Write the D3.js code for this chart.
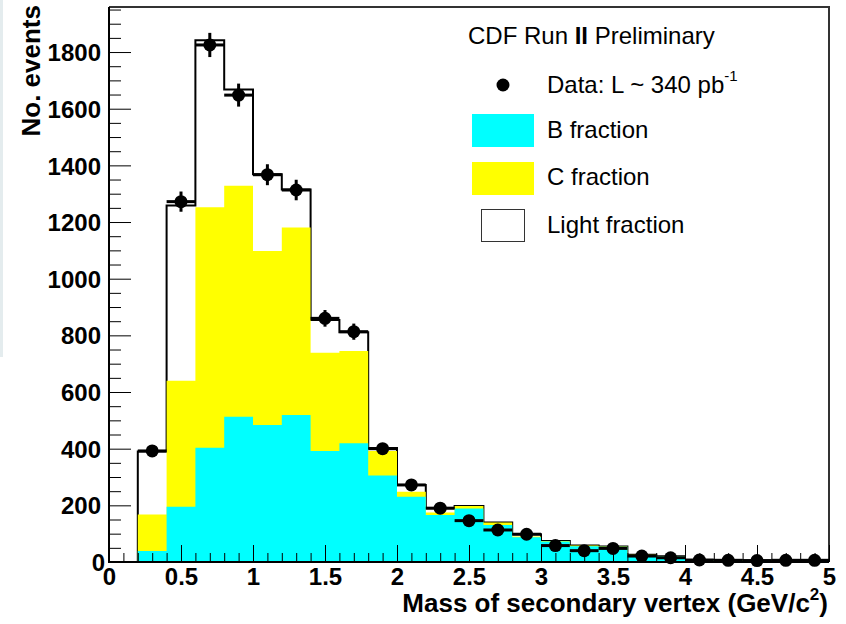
<!DOCTYPE html>
<html><head><meta charset="utf-8">
<script src="https://cdn.jsdelivr.net/npm/d3@7"></script>
<style>body{margin:0;background:#fff}svg{display:block}text{font-family:"Liberation Sans",Arial,sans-serif}</style>
</head><body><svg id="c" width="846" height="624"></svg>
<script>
// bin low edges (GeV/c^2), width 0.2
const binLow = [0.2,0.4,0.6,0.8,1.0,1.2,1.4,1.6,1.8,2.0,2.2,2.4,2.6,2.8,3.0,3.2,3.4,3.6,3.8,4.0,4.2,4.4,4.6,4.8];
const binWidth = 0.2;
// stacked MC: B, B+C, B+C+Light
const bFrac   = [39,195,403,513,484,519,392,419,305,230,166,189,131,87,72,56,54,25,19,5,4,3,3,2];
const bcStack = [168,640,1252,1328,1098,1181,739,745,392,248,175,198,139,90,74,58,55,26,20,6,6,4,4,3];
const total   = [390,1258,1842,1668,1369,1315,854,811,402,272,190,198,139,98,74,58,55,26,20,7,6,5,5,5];
const dataVal = [392,1272,1825,1648,1367,1313,860,813,400,272,190,146,113,98,58,40,48,21,15,7,6,5,6,6];
const xTicks = [0,0.5,1,1.5,2,2.5,3,3.5,4,4.5,5];
const yTicks = [0,200,400,600,800,1000,1200,1400,1600,1800];
const legendLabels = ["Data: L ~ 340 pb", "B fraction", "C fraction", "Light fraction"];

const svg = d3.select("#c");
const L=109, R=829, T=7, B=562;
const x = d3.scaleLinear().domain([0,5]).range([L,R]);
const y = d3.scaleLinear().domain([0,1959]).range([B,T]);

svg.append("rect").attr("x",0).attr("y",0).attr("width",3).attr("height",357).attr("fill","#e4ecee");

function stepArea(vals){
  const pts=[];
  binLow.forEach((lo,i)=>{pts.push([lo,vals[i]]);pts.push([lo+binWidth,vals[i]]);});
  return d3.area().x(d=>x(d[0])).y0(y(0)).y1(d=>y(d[1]))(pts);
}
function stepLine(vals){
  const pts=[[binLow[0],0]];
  binLow.forEach((lo,i)=>{pts.push([lo,vals[i]]);pts.push([lo+binWidth,vals[i]]);});
  pts.push([binLow[binLow.length-1]+binWidth,0]);
  return d3.line().x(d=>x(d[0])).y(d=>y(d[1]))(pts);
}
svg.append("path").attr("d",stepArea(total)).attr("fill","#fff");
svg.append("path").attr("d",stepLine(total)).attr("fill","none").attr("stroke","#000").attr("stroke-width",2);
svg.append("path").attr("d",stepArea(bcStack)).attr("fill","#ffff00");
svg.append("path").attr("d",stepArea(bFrac)).attr("fill","#00ffff");

// frame
svg.append("path").attr("d",`M${L},${T}H${R}V${B}`).attr("fill","none").attr("stroke","#333").attr("stroke-width",2);

// axes
const yMinor = d3.range(0,1959,50).filter(v=>v%200!==0);
const xMinor = d3.range(0,51,1).map(v=>v/10).filter(v=>Math.round(v*10)%5!==0);
const yAx = svg.append("g").attr("transform",`translate(${L},0)`)
  .call(d3.axisLeft(y).tickValues(yTicks).tickSize(-22).tickPadding(8).tickFormat(d3.format("d")));
svg.append("g").attr("transform",`translate(${L},0)`)
  .call(d3.axisLeft(y).tickValues(yMinor).tickSize(-12).tickFormat(""));
const xAx = svg.append("g").attr("transform",`translate(0,${B})`)
  .call(d3.axisBottom(x).tickValues(xTicks).tickSize(-17).tickPadding(6).tickFormat(d=>String(d)));
svg.append("g").attr("transform",`translate(0,${B})`)
  .call(d3.axisBottom(x).tickValues(xMinor).tickSize(-9).tickFormat(""));
svg.selectAll(".domain").remove();
svg.selectAll(".tick line").attr("stroke","#000").attr("stroke-width",1);
yAx.selectAll("text").attr("font-size",24).attr("font-weight","bold").attr("fill","#000").attr("dy","0.36em");
yAx.selectAll(".tick").filter(d=>d===0).select("text").attr("dx",4);
xAx.selectAll("text").attr("font-size",24).attr("font-weight","bold").attr("fill","#000").attr("dy","0.71em");
svg.append("path").attr("d",`M${L},${T}V${B}H${R}`).attr("fill","none").attr("stroke","#000").attr("stroke-width",2);

// data points
const g = svg.append("g");
dataVal.forEach((v,i)=>{
  const cx = x(binLow[i]+binWidth/2), e=Math.sqrt(v);
  g.append("line").attr("x1",x(binLow[i])).attr("x2",x(binLow[i]+binWidth)).attr("y1",y(v)).attr("y2",y(v)).attr("stroke","#000").attr("stroke-width",3);
  g.append("line").attr("x1",cx).attr("x2",cx).attr("y1",y(v+e)).attr("y2",y(Math.max(0,v-e))).attr("stroke","#000").attr("stroke-width",3);
  g.append("circle").attr("cx",cx).attr("cy",y(v)).attr("r",6.5).attr("fill","#000");
});

// titles
const xt = svg.append("text").attr("x",828).attr("y",612).attr("text-anchor","end").attr("font-size",26).attr("font-weight","bold");
xt.append("tspan").text("Mass of secondary vertex (GeV/c");
xt.append("tspan").attr("font-size",17).attr("dy",-12).text("2");
xt.append("tspan").attr("dy",12).text(")");
svg.append("text").attr("transform","translate(40,5) rotate(-90)").attr("text-anchor","end")
  .attr("font-size",26).attr("font-weight","bold").text("No. events");

// legend
const hd = svg.append("text").attr("x",468).attr("y",44).attr("font-size",24);
hd.append("tspan").text("CDF Run ");
hd.append("tspan").attr("font-weight","bold").text("II");
hd.append("tspan").text(" Preliminary");
svg.append("circle").attr("cx",503).attr("cy",85).attr("r",6.5).attr("fill","#000");
const dl = svg.append("text").attr("x",547).attr("y",93).attr("font-size",24);
dl.append("tspan").text(legendLabels[0]);
dl.append("tspan").attr("font-size",15).attr("dy",-12).text("-1");
svg.append("rect").attr("x",472).attr("y",114).attr("width",62).attr("height",33).attr("fill","#00ffff");
svg.append("text").attr("x",547).attr("y",138).attr("font-size",24).text(legendLabels[1]);
svg.append("rect").attr("x",472).attr("y",162).attr("width",62).attr("height",33).attr("fill","#ffff00");
svg.append("text").attr("x",547).attr("y",185).attr("font-size",24).text(legendLabels[2]);
svg.append("rect").attr("x",481.5).attr("y",209.5).attr("width",43).attr("height",32).attr("fill","#fff").attr("stroke","#333").attr("stroke-width",1);
svg.append("text").attr("x",547).attr("y",233).attr("font-size",24).text(legendLabels[3]);
</script></body></html>
